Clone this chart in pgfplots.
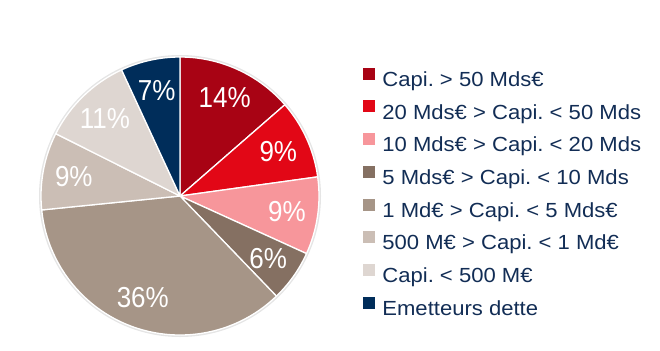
\documentclass[border=0pt]{standalone}
\usepackage{fontspec}
\setmainfont{Liberation Sans}
\newfontfamily\legfont[FakeStretch=1.08]{Liberation Sans}
\newfontfamily\pctfont[FakeStretch=0.9]{Liberation Sans}
\usepackage{pgfplots}
\usepackage{pgfplotstable}
\pgfplotsset{compat=1.18}
\frenchspacing
\definecolor{c1}{RGB}{168,3,20}
\definecolor{c2}{RGB}{226,7,22}
\definecolor{c3}{RGB}{247,150,155}
\definecolor{c4}{RGB}{133,112,98}
\definecolor{c5}{RGB}{166,149,135}
\definecolor{c6}{RGB}{203,190,181}
\definecolor{c7}{RGB}{222,214,209}
\definecolor{c8}{RGB}{0,45,90}
\definecolor{legtext}{RGB}{18,45,85}
\pgfplotstableread{
val lab
13.6 14
9.2 9
9.0 9
6.0 6
35.6 36
9.0 9
10.7 11
6.9 7
}\piedata
\begin{document}
\frenchspacing
\begin{tikzpicture}
\begin{axis}[
  width=660bp, height=346bp, scale only axis, hide axis,
  xmin=0, xmax=660, ymin=0, ymax=346, clip=false,
  legend style={at={(axis cs:363,278.3)}, anchor=north west, draw=none, fill=none,
    inner sep=0pt, outer sep=0pt, font=\legfont\fontsize{20.5}{24}\selectfont\frenchspacing,
    text=legtext, row sep=9bp, column sep=8bp,
    nodes={inner sep=0pt, text height=16bp, text depth=5bp}},
  legend cell align=left,
]
\pgfplotsextra{
  \xdef\cum{0}
  \fill[black!10] (axis cs:180,150) circle[radius=141bp];
  \foreach \i in {0,...,7}{
    \pgfplotstablegetelem{\i}{val}\of\piedata \let\v\pgfplotsretval
    \pgfmathtruncatemacro\j{\i+1}
    \pgfmathsetmacro\a{90-3.6*\cum}
    \pgfmathsetmacro\b{90-3.6*(\cum+\v)}
    \fill[fill=c\j, draw=white, line width=1.3pt, line join=round] (axis cs:180,150) -- ++(\a:139bp) arc[start angle=\a, end angle=\b, radius=139bp] -- cycle;
    \pgfmathsetmacro\n{\cum+\v}\xdef\cum{\n}
  }
  \xdef\cum{0}
  \foreach \i in {0,...,7}{
    \pgfplotstablegetelem{\i}{val}\of\piedata \let\v\pgfplotsretval
    \pgfplotstablegetelem{\i}{lab}\of\piedata \let\l\pgfplotsretval
    \pgfmathsetmacro\m{90-3.6*(\cum+\v/2)}
    \path (axis cs:180,150) ++(\m:108bp) node[text=white, inner sep=0pt, font=\pctfont\fontsize{29}{31}\selectfont] {\l\%};
    \pgfmathsetmacro\n{\cum+\v}\xdef\cum{\n}
  }
}
\addlegendimage{legend image code/.code={\fill[c1] (0bp,2bp) rectangle (11bp,13bp);}}
\addlegendentry{Capi. > 50 Mds€}
\addlegendimage{legend image code/.code={\fill[c2] (0bp,2bp) rectangle (11bp,13bp);}}
\addlegendentry{20 Mds€ > Capi. < 50 Mds}
\addlegendimage{legend image code/.code={\fill[c3] (0bp,2bp) rectangle (11bp,13bp);}}
\addlegendentry{10 Mds€ > Capi. < 20 Mds}
\addlegendimage{legend image code/.code={\fill[c4] (0bp,2bp) rectangle (11bp,13bp);}}
\addlegendentry{5 Mds€ > Capi. < 10 Mds}
\addlegendimage{legend image code/.code={\fill[c5] (0bp,2bp) rectangle (11bp,13bp);}}
\addlegendentry{1 Md€ > Capi. < 5 Mds€}
\addlegendimage{legend image code/.code={\fill[c6] (0bp,2bp) rectangle (11bp,13bp);}}
\addlegendentry{500 M€ > Capi. < 1 Md€}
\addlegendimage{legend image code/.code={\fill[c7] (0bp,2bp) rectangle (11bp,13bp);}}
\addlegendentry{Capi. < 500 M€}
\addlegendimage{legend image code/.code={\fill[c8] (0bp,2bp) rectangle (11bp,13bp);}}
\addlegendentry{Emetteurs dette}
\path (axis cs:0,0) rectangle (axis cs:660,346);
\end{axis}
\end{tikzpicture}
\end{document}
